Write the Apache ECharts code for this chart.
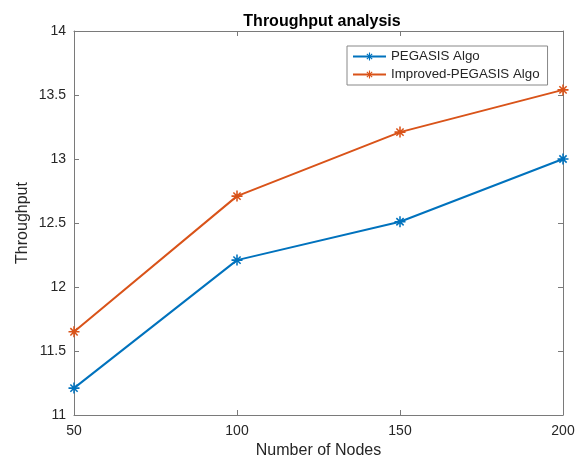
<!DOCTYPE html>
<html><head><meta charset="utf-8">
<script src="https://cdn.jsdelivr.net/npm/echarts@6/dist/echarts.min.js"></script>
<style>html,body{margin:0;padding:0;background:#fff}#c{width:581px;height:461px}</style>
</head><body><div id="c"></div>
<script>
var nodes = [50, 100, 150, 200];
var pegasis = [11.21, 12.21, 12.51, 13.0];
var improved = [11.65, 12.71, 13.21, 13.54];
var seriesNames = ['PEGASIS Algo', 'Improved-PEGASIS Algo'];
var colors = ['#0072BD', '#D95319'];

var star = 'path://M0 4.3L10 4.3L10 5.7L0 5.7ZM4.3 0L5.7 0L5.7 10L4.3 10ZM1.2 2.2L2.2 1.2L8.8 7.8L7.8 8.8ZM7.8 1.2L8.8 2.2L2.2 8.8L1.2 7.8Z';
var font = 'Liberation Sans';
var axisCol = '#7a7a7a';
var textCol = '#262626';

function mk(x, y) { return x.map(function (v, i) { return [v, y[i]]; }); }

var chart = echarts.init(document.getElementById('c'), null, {renderer: 'canvas'});
chart.setOption({
  animation: false,
  backgroundColor: '#fff',
  title: {text: 'Throughput analysis', left: 317, top: 9, textAlign: 'center',
    textStyle: {fontFamily: font, fontSize: 16, fontWeight: 'bold', color: '#000'}},
  grid: {left: 74, right: 18, top: 31, bottom: 46, containLabel: false, outerBoundsMode: 'none'},
  legend: {
    left: 347, top: 46, orient: 'vertical', itemGap: 5, itemWidth: 33, itemHeight: 10,
    padding: [4, 8, 4, 5], borderColor: '#888', borderWidth: 1, backgroundColor: '#fff',
    textStyle: {fontFamily: font, fontSize: 13.3, color: textCol},
    data: seriesNames
  },
  xAxis: [{
    type: 'value', min: 50, max: 200, interval: 50,
    name: 'Number of Nodes', nameLocation: 'middle', nameGap: 28, nameMoveOverlap: false,
    nameTextStyle: {fontFamily: font, fontSize: 16, color: textCol},
    axisLine: {lineStyle: {color: axisCol}},
    axisTick: {inside: true, length: 5, lineStyle: {color: axisCol}},
    axisLabel: {margin: 9, fontFamily: font, fontSize: 14, color: textCol},
    splitLine: {show: false}
  }, {
    type: 'value', position: 'top', min: 50, max: 200, interval: 50,
    axisLine: {lineStyle: {color: axisCol}},
    axisTick: {inside: true, length: 5, lineStyle: {color: axisCol}},
    axisLabel: {show: false}, splitLine: {show: false}
  }],
  yAxis: [{
    type: 'value', min: 11, max: 14, interval: 0.5,
    name: 'Throughput', nameLocation: 'middle', nameGap: 43, nameMoveOverlap: false,
    nameTextStyle: {fontFamily: font, fontSize: 16, color: textCol},
    axisLine: {show: true, lineStyle: {color: axisCol}},
    axisTick: {show: true, inside: true, length: 5, lineStyle: {color: axisCol}},
    axisLabel: {margin: 8, fontFamily: font, fontSize: 14, color: textCol},
    splitLine: {show: false}
  }, {
    type: 'value', position: 'right', min: 11, max: 14, interval: 0.5,
    axisLine: {show: true, lineStyle: {color: axisCol}},
    axisTick: {show: true, inside: true, length: 5, lineStyle: {color: axisCol}},
    axisLabel: {show: false}, splitLine: {show: false}
  }],
  series: [{
    name: seriesNames[0], type: 'line', data: mk(nodes, pegasis),
    symbol: star, symbolSize: 11, showAllSymbol: true,
    lineStyle: {color: colors[0], width: 2}, itemStyle: {color: colors[0]}
  }, {
    name: seriesNames[1], type: 'line', data: mk(nodes, improved),
    symbol: star, symbolSize: 11, showAllSymbol: true,
    lineStyle: {color: colors[1], width: 2}, itemStyle: {color: colors[1]}
  }]
});
</script></body></html>
